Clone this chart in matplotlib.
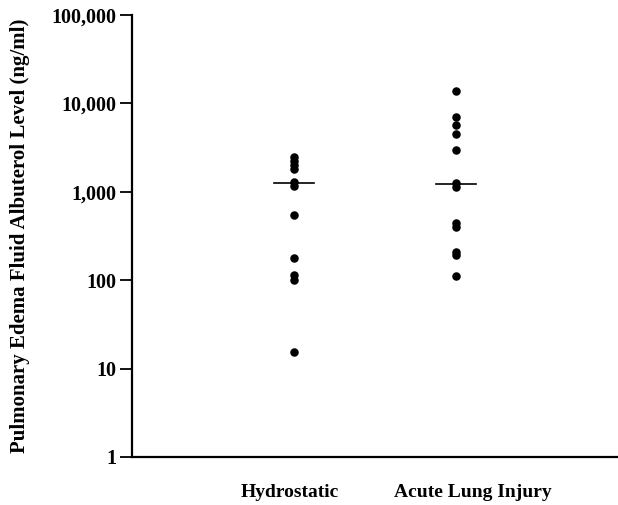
import matplotlib.pyplot as plt
import numpy as np

plt.rcParams['font.family'] = ['Liberation Serif', 'DejaVu Serif']
plt.rcParams['font.weight'] = 'bold'

# albuterol levels (ng/ml)
groups = ["Hydrostatic", "Acute Lung Injury"]
hydrostatic = [2500, 2250, 2000, 1800, 1290, 1160, 547, 178, 115, 100, 15.4]
acute_lung_injury = [13900, 6950, 5700, 4500, 2970, 1260, 1130, 447, 403, 210, 191, 112]
medians = [1250, 1220]

yticks = [1, 10, 100, 1000, 10000, 100000]
ytick_labels = ["1", "10", "100", "1,000", "10,000", "100,000"]

fig = plt.figure(figsize=(6.18, 5.05), dpi=100)
ax = fig.add_axes([132/618, 1-457/505, 1-132/618, (457-15)/505])

ax.scatter(np.full(len(hydrostatic), 1), hydrostatic, s=26, color='black', zorder=3)
ax.scatter(np.full(len(acute_lung_injury), 2), acute_lung_injury, s=26, color='black', zorder=3)
for i, m in enumerate(medians):
    ax.plot([i+1-0.125, i+1+0.125], [m, m], color='black', lw=1.2, zorder=2)

ax.set_yscale('log')
ax.set_ylim(1, 100000)
ax.set_xlim(0, 3)
ax.set_yticks(yticks)
ax.set_yticklabels(ytick_labels, fontsize=14.5, fontweight='bold')
ax.minorticks_off()
ax.tick_params(axis='y', direction='out', length=9, width=1.3, pad=2)
ax.set_xticks([])

for s in ['top', 'right']:
    ax.spines[s].set_visible(False)
ax.spines['left'].set_linewidth(1.6)
ax.spines['bottom'].set_linewidth(1.6)

# group labels sit a bit off the point columns
ax.text(0.975, -0.08, groups[0], transform=ax.get_xaxis_transform(), ha='center', va='center', fontsize=14, fontweight='bold')
ax.text(2.105, -0.08, groups[1], transform=ax.get_xaxis_transform(), ha='center', va='center', fontsize=14, fontweight='bold')

ax.set_ylabel("Pulmonary Edema Fluid Albuterol Level (ng/ml)", fontsize=15, fontweight='bold')
ax.yaxis.set_label_coords(-0.21, 0.5)

fig.savefig("out.png", dpi=100)
